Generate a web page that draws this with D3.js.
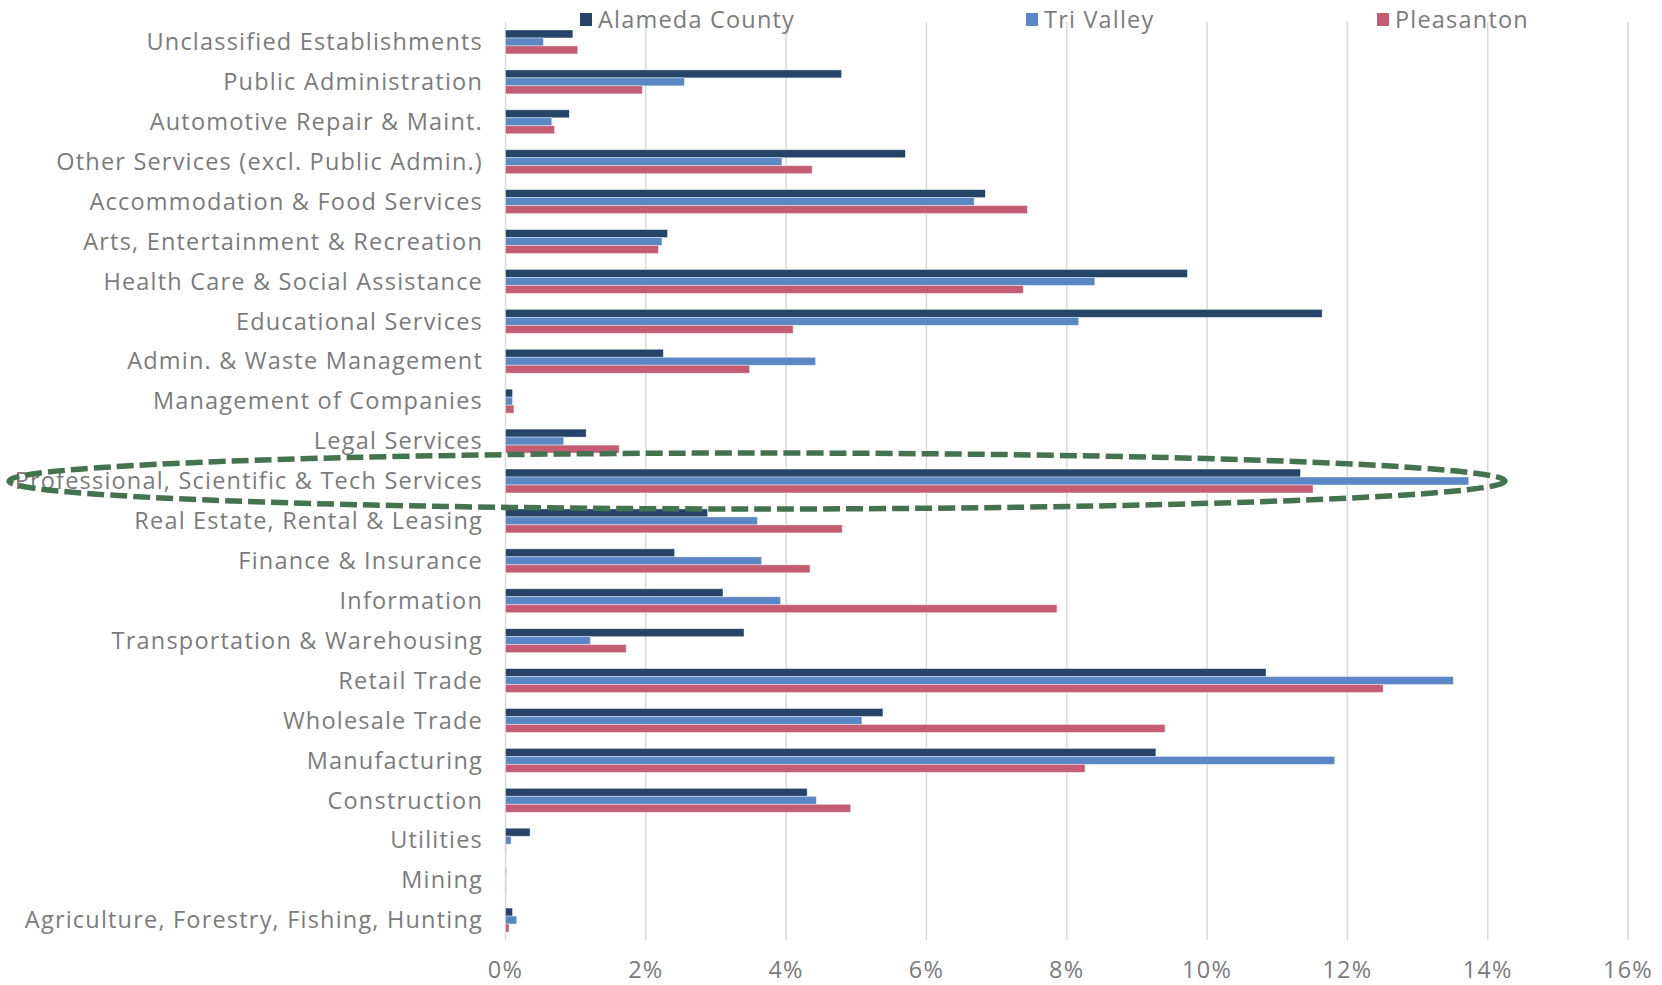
<!DOCTYPE html>
<html>
<head>
<meta charset="utf-8">
<script src="https://cdn.jsdelivr.net/npm/d3@7"></script>
<style>
  body { margin: 0; background: #fff; }
  text { font-family: "Open Sans", sans-serif; fill: #7b7b7b; letter-spacing: 1.2px; }
</style>
</head>
<body>
<div id="chart"></div>
<script>
var width = 1662;
var height = 985;

// categories, top to bottom as drawn
var industries = [
  "Unclassified Establishments", "Public Administration", "Automotive Repair & Maint.",
  "Other Services (excl. Public Admin.)", "Accommodation & Food Services",
  "Arts, Entertainment & Recreation", "Health Care & Social Assistance",
  "Educational Services", "Admin. & Waste Management", "Management of Companies",
  "Legal Services", "Professional, Scientific & Tech Services",
  "Real Estate, Rental & Leasing", "Finance & Insurance", "Information",
  "Transportation & Warehousing", "Retail Trade", "Wholesale Trade", "Manufacturing",
  "Construction", "Utilities", "Mining", "Agriculture, Forestry, Fishing, Hunting"
];
var seriesNames = ["Alameda County", "Tri Valley", "Pleasanton"];
var alameda =    [0.96, 4.79, 0.91, 5.70, 6.84, 2.31, 9.72, 11.64, 2.25, 0.10, 1.15, 11.33, 2.88, 2.41, 3.10, 3.40, 10.84, 5.38, 9.27, 4.30, 0.35, 0.01, 0.10];
var triValley =  [0.54, 2.55, 0.66, 3.94, 6.68, 2.23, 8.40, 8.17, 4.42, 0.10, 0.83, 13.73, 3.59, 3.65, 3.92, 1.21, 13.51, 5.08, 11.82, 4.43, 0.08, 0.01, 0.16];
var pleasanton = [1.03, 1.95, 0.70, 4.37, 7.44, 2.18, 7.38, 4.10, 3.48, 0.12, 1.62, 11.51, 4.80, 4.34, 7.86, 1.72, 12.51, 9.40, 8.26, 4.92, 0.01, 0.01, 0.05];
var colors = ["#264468", "#5b88c4", "#c45c74"];
var xTicks = [0, 2, 4, 6, 8, 10, 12, 14, 16];
var highlight = "Professional, Scientific & Tech Services";

var values = [alameda, triValley, pleasanton];
var rows = industries.map(function(name, i) {
  return { name: name, vals: values.map(function(s) { return s[i]; }) };
});

var svg = d3.select("#chart").append("svg")
          .attr("width", width)
          .attr("height", height);

var x = d3.scaleLinear().domain([0, 16]).range([505.5, 1628]);
var y = d3.scaleBand().domain(industries).range([22, 940]).paddingInner(0.4).paddingOuter(0.2);
var inner = d3.scaleBand().domain(seriesNames).range([0, y.bandwidth()]);

// gridlines
svg.append("g").selectAll("line")
  .data(xTicks)
  .enter().append("line")
  .attr("x1", function(d) { return x(d); })
  .attr("x2", function(d) { return x(d); })
  .attr("y1", 22).attr("y2", 940)
  .attr("stroke", "#d9d9d9")
  .attr("stroke-width", 1.5);

// bars
var groups = svg.append("g").selectAll("g")
  .data(rows)
  .enter().append("g")
  .attr("transform", function(d) { return "translate(0," + y(d.name) + ")"; });

groups.selectAll("rect")
  .data(function(d) { return d.vals.map(function(v, j) { return { key: seriesNames[j], v: v, j: j }; }); })
  .enter().append("rect")
  .attr("x", x(0))
  .attr("y", function(d) { return inner(d.key); })
  .attr("width", function(d) { return x(d.v) - x(0); })
  .attr("height", inner.bandwidth())
  .attr("fill", function(d) { return colors[d.j]; })
  .attr("stroke", "#fff")
  .attr("stroke-opacity", 0.5)
  .attr("stroke-width", 0.8);

// category labels
svg.append("g").selectAll("text")
  .data(industries)
  .enter().append("text")
  .attr("x", 483)
  .attr("y", function(d) { return y(d) + y.bandwidth() / 2; })
  .attr("dy", "0.35em")
  .attr("text-anchor", "end")
  .style("font-size", "23.5px")
  .text(function(d) { return d; });

// x axis labels
svg.append("g").selectAll("text")
  .data(xTicks)
  .enter().append("text")
  .attr("x", function(d) { return x(d); })
  .attr("y", 970)
  .attr("dy", "0.35em")
  .attr("text-anchor", "middle")
  .style("font-size", "23.5px")
  .text(function(d) { return d + "%"; });

// legend
var legendX = [580, 1026, 1377];
var legend = svg.append("g").selectAll("g")
  .data(seriesNames)
  .enter().append("g")
  .attr("transform", function(d, i) { return "translate(" + legendX[i] + ",20)"; });
legend.append("rect")
  .attr("x", 0).attr("y", -7).attr("width", 12).attr("height", 13)
  .attr("fill", function(d, i) { return colors[i]; });
legend.append("text")
  .attr("x", 18).attr("y", 0).attr("dy", "0.35em")
  .style("font-size", "23.5px")
  .text(function(d) { return d; });

// dashed ellipse around the highlighted row
var cy = y(highlight) + y.bandwidth() / 2;
svg.append("ellipse")
  .attr("cx", 757)
  .attr("cy", cy)
  .attr("rx", 748)
  .attr("ry", 28)
  .attr("fill", "none")
  .attr("stroke", "#44734f")
  .attr("stroke-width", 5.5)
  .attr("stroke-dasharray", "17 6");
</script>
</body>
</html>
